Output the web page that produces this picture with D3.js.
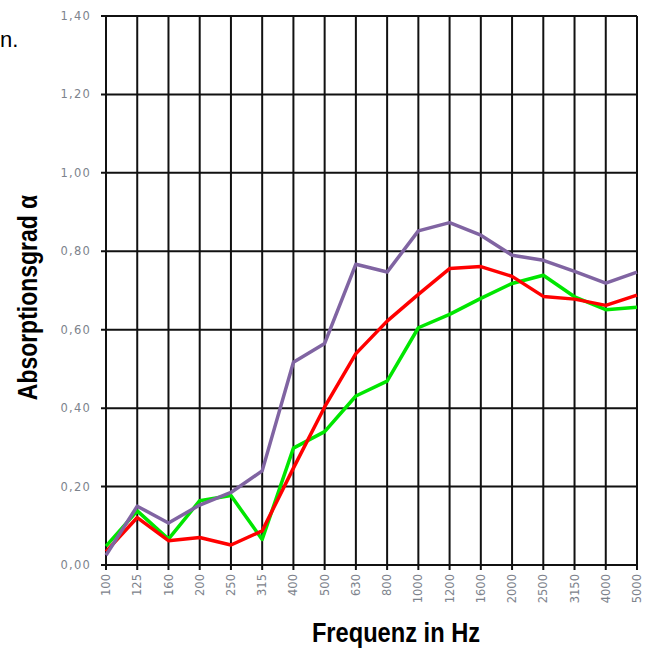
<!DOCTYPE html>
<html>
<head>
<meta charset="utf-8">
<script src="https://cdn.jsdelivr.net/npm/d3@7"></script>
<style>
  html, body { margin: 0; padding: 0; background: #fff; }
  svg { display: block; }
</style>
</head>
<body>
<div id="chart"></div>
<script>
const frequencies = ["100", "125", "160", "200", "250", "315", "400", "500", "630", "800",
    "1000", "1200", "1600", "2000", "2500", "3150", "4000", "5000"];

const purpleValues = [0.025, 0.15, 0.107, 0.153, 0.185, 0.24, 0.517, 0.565, 0.767, 0.747,
    0.852, 0.873, 0.841, 0.79, 0.777, 0.749, 0.719, 0.747];
const redValues = [0.034, 0.121, 0.062, 0.07, 0.051, 0.087, 0.247, 0.403, 0.539, 0.622,
    0.69, 0.756, 0.761, 0.736, 0.685, 0.678, 0.662, 0.688];
const greenValues = [0.048, 0.138, 0.066, 0.164, 0.177, 0.065, 0.298, 0.34, 0.431, 0.469,
    0.605, 0.639, 0.68, 0.718, 0.739, 0.684, 0.651, 0.657];

const yTicks = [0, 0.2, 0.4, 0.6, 0.8, 1.0, 1.2, 1.4];

const width = 649, height = 648;
const margin = { top: 16, right: 12, bottom: 83, left: 106 };

const svg = d3.select("#chart")
    .append("svg")
    .attr("width", width)
    .attr("height", height);

const x = d3.scalePoint()
    .domain(frequencies)
    .range([margin.left, width - margin.right]);

const y = d3.scaleLinear()
    .domain([0, 1.4])
    .range([height - margin.bottom, margin.top]);

const fmt = v => d3.format(".2f")(v).replace(".", ",");

// grid
svg.append("g")
    .selectAll("line")
    .data(yTicks)
    .enter().append("line")
    .attr("x1", margin.left - 5)
    .attr("x2", width - margin.right)
    .attr("y1", d => y(d))
    .attr("y2", d => y(d))
    .attr("stroke", "#111")
    .attr("stroke-width", 2);

svg.append("g")
    .selectAll("line")
    .data(frequencies)
    .enter().append("line")
    .attr("x1", d => x(d))
    .attr("x2", d => x(d))
    .attr("y1", y(1.4))
    .attr("y2", y(0) + 5)
    .attr("stroke", "#111")
    .attr("stroke-width", 2);

// y labels
svg.append("g")
    .selectAll("text")
    .data(yTicks)
    .enter().append("text")
    .attr("x", margin.left - 15)
    .attr("y", d => y(d))
    .attr("dy", "0.35em")
    .attr("text-anchor", "end")
    .attr("font-family", "'DejaVu Sans', sans-serif")
    .attr("font-size", 11.5)
    .attr("letter-spacing", 1.2)
    .attr("fill", "#7d838c")
    .text(fmt);

// x labels
svg.append("g")
    .selectAll("text")
    .data(frequencies)
    .enter().append("text")
    .attr("transform", d => `translate(${x(d)},${y(0) + 9}) rotate(-90)`)
    .attr("dy", "0.35em")
    .attr("text-anchor", "end")
    .attr("font-family", "'DejaVu Sans', sans-serif")
    .attr("font-size", 11.5)
    .attr("fill", "#7d838c")
    .text(d => d);

// lines
const line = d3.line()
    .x((d, i) => x(frequencies[i]))
    .y(d => y(d));

const series = [
    { values: greenValues, color: "#00e600" },
    { values: redValues, color: "#ff0000" },
    { values: purpleValues, color: "#8064a2" }
];

svg.append("g")
    .selectAll("path")
    .data(series)
    .enter().append("path")
    .attr("d", d => line(d.values))
    .attr("fill", "none")
    .attr("stroke", d => d.color)
    .attr("stroke-width", 3.5)
    .attr("stroke-linejoin", "round");

// titles (narrow bold look)
svg.append("text")
    .attr("transform", "translate(37,297.5) rotate(-90) scale(0.82,1)")
    .attr("text-anchor", "middle")
    .attr("font-family", "'Liberation Sans', Arial, sans-serif")
    .attr("font-weight", "bold")
    .attr("font-size", 28)
    .attr("fill", "#000")
    .text("Absorptionsgrad α");

svg.append("text")
    .attr("transform", "translate(396,642) scale(0.845,1)")
    .attr("text-anchor", "middle")
    .attr("font-family", "'Liberation Sans', Arial, sans-serif")
    .attr("font-weight", "bold")
    .attr("font-size", 28)
    .attr("fill", "#000")
    .text("Frequenz in Hz");

svg.append("text")
    .attr("x", 0)
    .attr("y", 47)
    .attr("font-family", "'Liberation Sans', Arial, sans-serif")
    .attr("font-size", 22)
    .attr("fill", "#000")
    .text("n.");
</script>
</body>
</html>
